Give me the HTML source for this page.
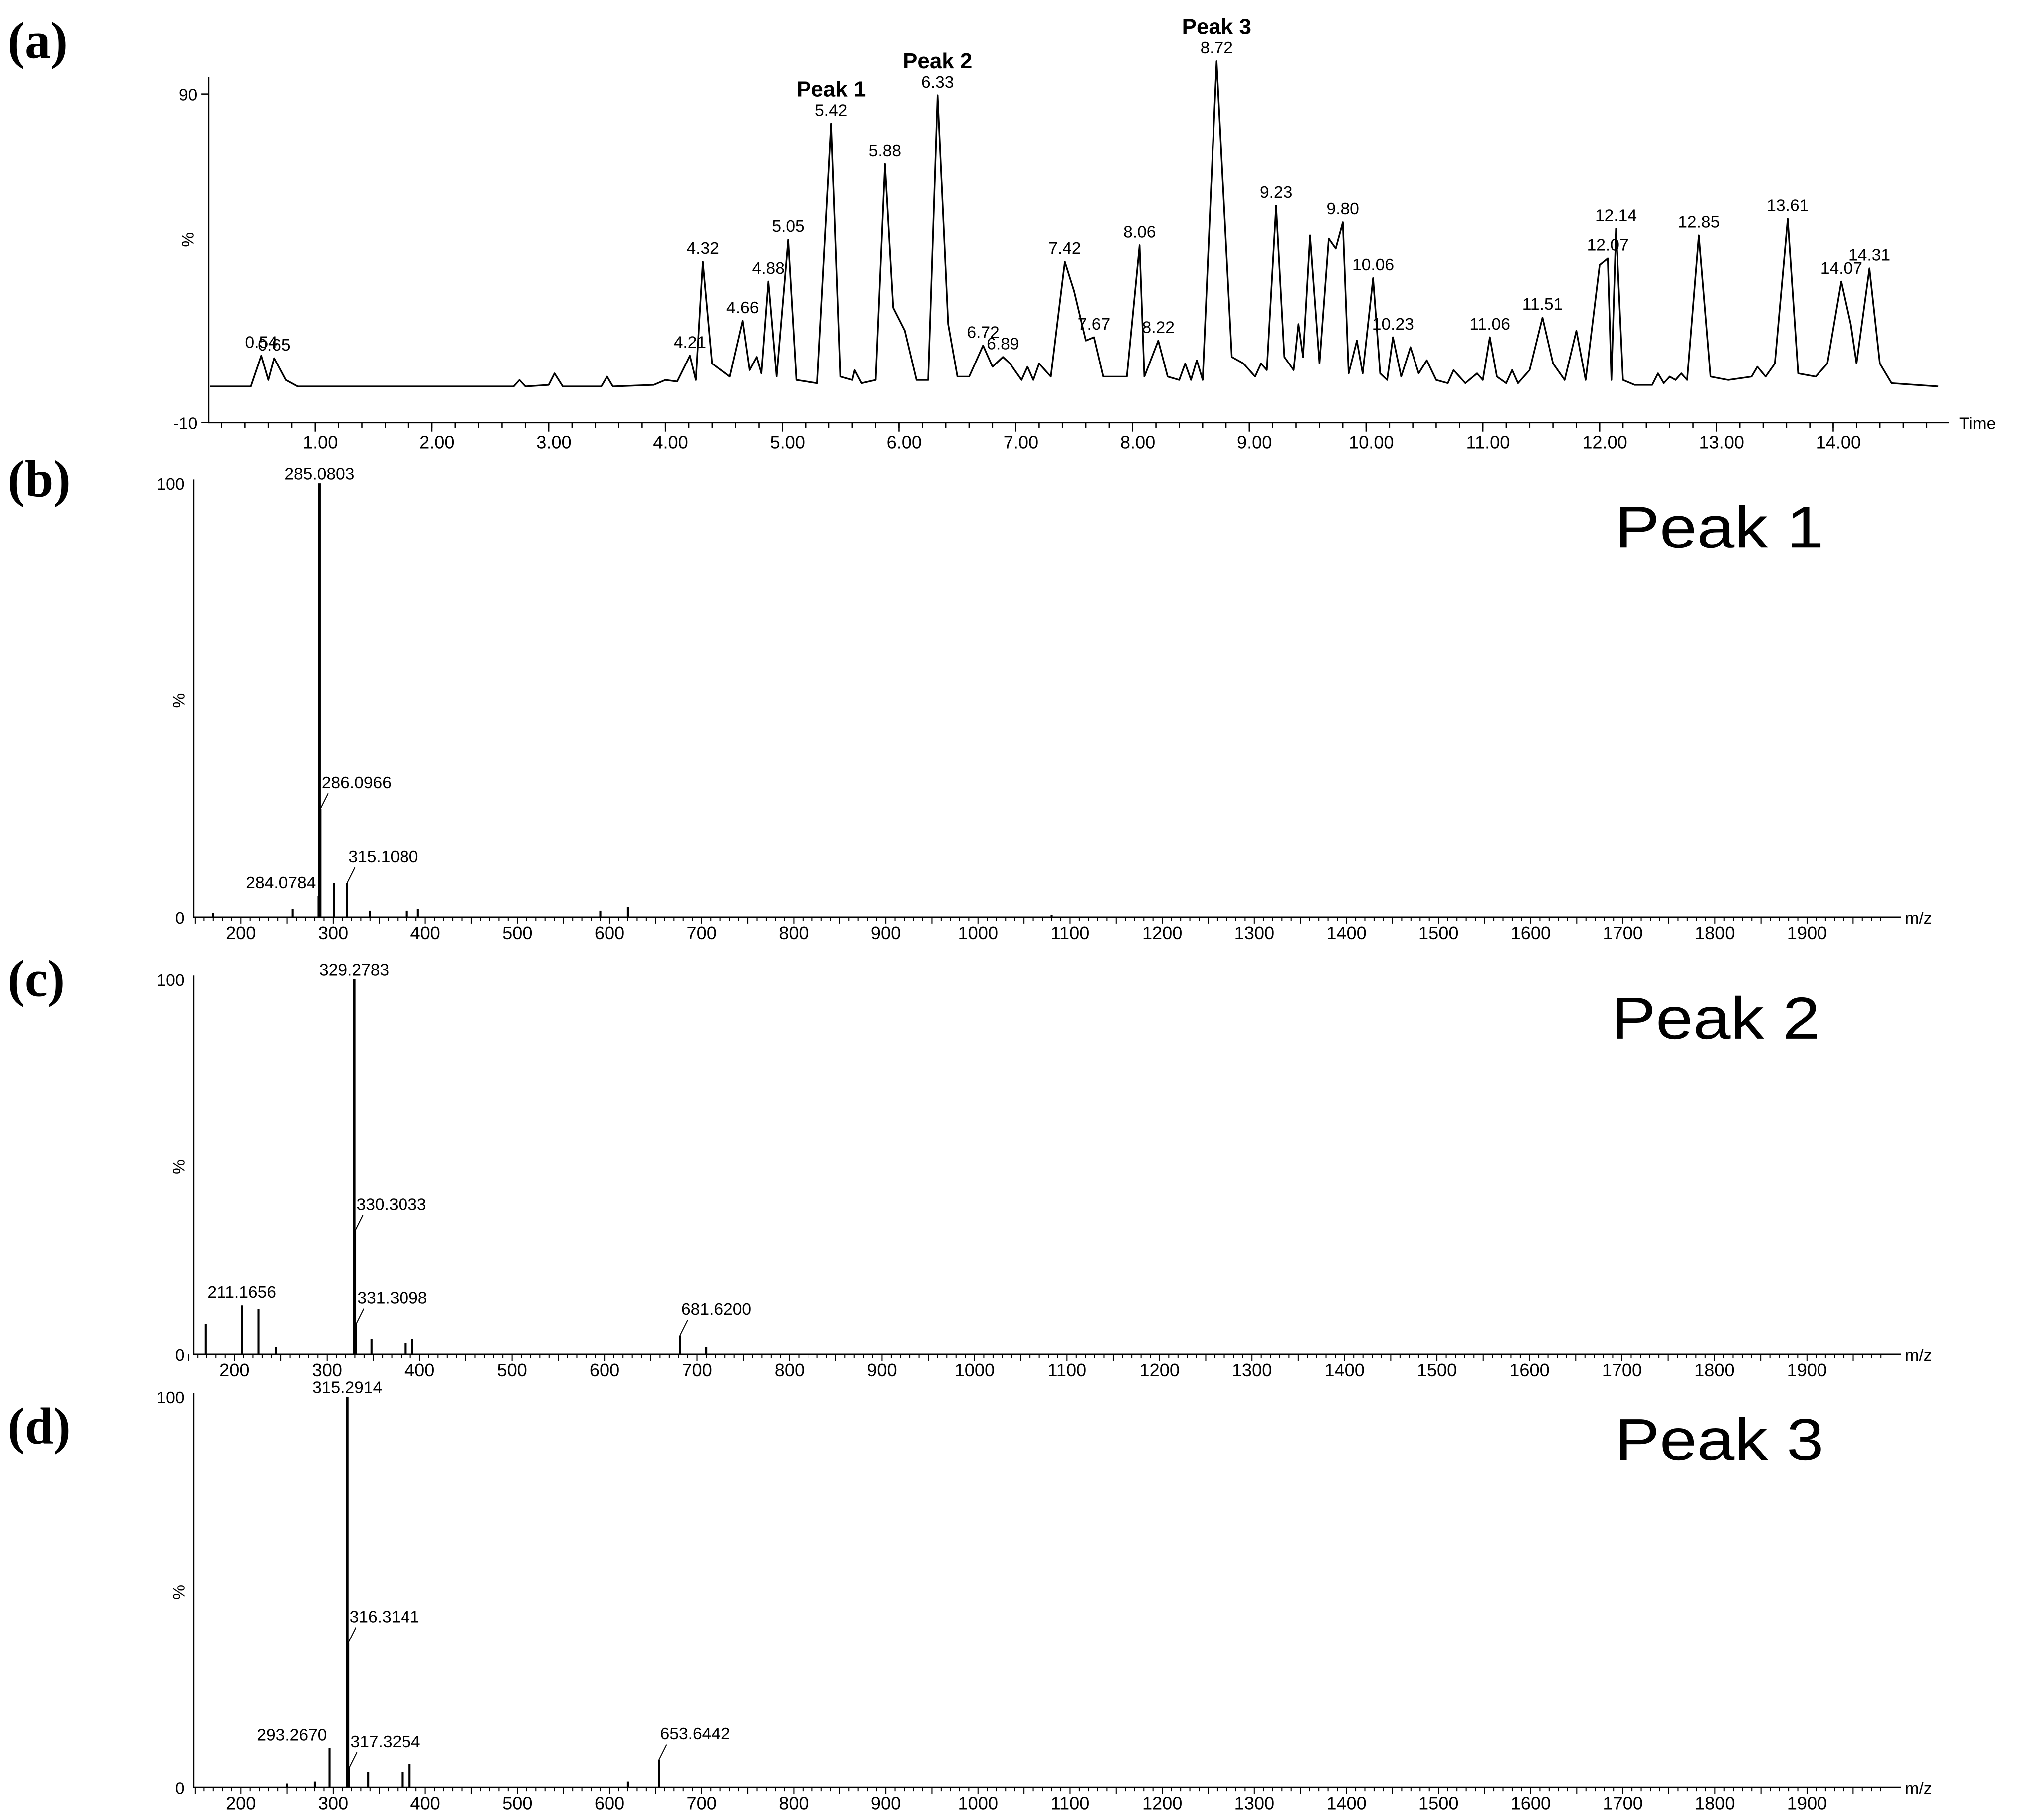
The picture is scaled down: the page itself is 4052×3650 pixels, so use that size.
<!DOCTYPE html>
<html><head><meta charset="utf-8"><style>html,body{margin:0;padding:0;background:#fff}svg{display:block}text{font-family:"Liberation Sans",sans-serif;fill:#000}</style></head>
<body>
<svg id="fig" xmlns="http://www.w3.org/2000/svg" width="4052" height="3650" viewBox="0 0 1568 1412.4" preserveAspectRatio="none">
<rect width="1568" height="1412.4" fill="#fff"/>
<g font-family="Liberation Serif" font-weight="bold" font-size="40">
<text x="6" y="45" style="font-family:'Liberation Serif',serif">(a)</text>
<text x="6" y="385" style="font-family:'Liberation Serif',serif">(b)</text>
<text x="6" y="773" style="font-family:'Liberation Serif',serif">(c)</text>
<text x="6" y="1120" style="font-family:'Liberation Serif',serif">(d)</text>
</g>
<text x="1253" y="425" font-size="46" textLength="162" lengthAdjust="spacingAndGlyphs">Peak 1</text>
<text x="1250" y="806" font-size="46" textLength="162" lengthAdjust="spacingAndGlyphs">Peak 2</text>
<text x="1253" y="1133" font-size="46" textLength="162" lengthAdjust="spacingAndGlyphs">Peak 3</text>
<g id="chrom"></g>
<g id="specb"></g>
<g id="specc"></g>
<g id="specd"></g>
</svg>
<script>
const chromTimes=[0.1,0.45,0.54,0.6,0.65,0.75,0.85,2.7,2.75,2.8,3.0,3.05,3.12,3.45,3.5,3.55,3.9,4.0,4.1,4.21,4.26,4.32,4.4,4.55,4.66,4.72,4.78,4.82,4.88,4.95,5.05,5.12,5.3,5.42,5.5,5.6,5.62,5.68,5.8,5.88,5.95,6.05,6.15,6.25,6.33,6.42,6.5,6.6,6.72,6.8,6.89,6.95,7.05,7.1,7.15,7.2,7.3,7.42,7.5,7.6,7.67,7.75,7.95,8.06,8.1,8.22,8.3,8.4,8.45,8.5,8.55,8.6,8.72,8.85,8.95,9.05,9.1,9.15,9.23,9.3,9.38,9.42,9.46,9.52,9.6,9.68,9.74,9.80,9.85,9.92,9.97,10.06,10.12,10.18,10.23,10.3,10.38,10.45,10.52,10.6,10.7,10.75,10.85,10.95,11.0,11.06,11.12,11.2,11.25,11.3,11.4,11.51,11.6,11.7,11.8,11.88,12.0,12.07,12.1,12.14,12.2,12.3,12.45,12.5,12.55,12.6,12.65,12.7,12.75,12.85,12.95,13.1,13.3,13.35,13.42,13.5,13.61,13.7,13.85,13.95,14.07,14.15,14.2,14.31,14.4,14.5,14.9];
const chromValues=[1,1,10.4,3,9.6,3,1,1,3,1,1.5,5,1,1,4,1,1.5,3,2.5,10.4,3,39,8,4,21,6,10,5,33,4,45.7,3,2,81,4,3,6,2,3,68.8,25,18,3,3,89.6,20,4,4,13.5,7,10,8,3,7,3,8,4,39,30,15,16,4,4,44,4,15,4,3,8,3,9,3,100,10,8,4,8,6,56,10,6,20,10,47,8,46,43,51,5,15,5,34,5,3,16,4,13,5,9,3,2,6,2,5,3,16,4,2,6,2,6,22,8,3,18,3,38,40,3,49,3,1.5,1.5,5,2,4,3,5,3,47,4,3,4,7,4,8,52,5,4,8,33,20,8,37,8,2,1];
const chromLabels=["0.54","0.65","4.21","4.32","4.66","4.88","5.05","5.42","5.88","6.33","6.72","6.89","7.42","7.67","8.06","8.22","8.72","9.23","9.80","10.06","10.23","11.06","11.51","12.07","12.14","12.85","13.61","14.07","14.31"];
const chromLabelVals=[10.4,9.6,10.4,39,21,33,45.7,81,68.8,89.6,13.5,10,39,16,44,15,100,56,51,34,16,16,22,40,49,47,52,33,37];
const timeTicks=["1.00","2.00","3.00","4.00","5.00","6.00","7.00","8.00","9.00","10.00","11.00","12.00","13.00","14.00"];

const mzTicks=[200,300,400,500,600,700,800,900,1000,1100,1200,1300,1400,1500,1600,1700,1800,1900];
const specBmz=[170,256,284.08,285.08,286.10,301,315.11,340,380,392,590,620,1080];
const specBint=[1,2,5,100,25,8,8,1.5,1.5,2,1.5,2.5,0.5];
const specBlab=["284.0784","285.0803","286.0966","315.1080"];
const specCmz=[169,208,226,245,329.28,330.30,331.31,348,385,392,681.62,710];
const specCint=[8,13,12,2,100,33,8,4,3,4,5,2];
const specClab=["211.1656","329.2783","330.3033","331.3098","681.6200"];
const specDmz=[250,280,296,315.29,316.31,317.33,338,375,383,620,653.64];
const specDint=[1,1.5,10,100,37,5,4,4,6,1.5,7];
const specDlab=["293.2670","315.2914","316.3141","317.3254","653.6442"];

const NS="http://www.w3.org/2000/svg";
function mk(parent,tag,attrs){const e=document.createElementNS(NS,tag);for(const k in attrs)e.setAttribute(k,attrs[k]);parent.appendChild(e);return e;}
function txt(parent,x,y,s,size,anchor){const t=mk(parent,'text',{x:x,y:y,'font-size':size,'text-anchor':anchor||'start'});t.textContent=s;return t;}

// Chromatogram
(function(){
 const g=document.getElementById('chrom');
 const xT=t=>244.5+(t-1)*90.6, yV=v=>328-(v+10)*2.55;
 const ax=mk(g,'path',{d:'M162,60 V328 H1512',stroke:'#000','stroke-width':1.2,fill:'none'});
 
 for(let t=0.2;t<14.95;t+=0.2){const l=mk(g,'line',{x1:xT(t),x2:xT(t),y1:328,y2:332,stroke:'#000','stroke-width':1});}
 timeTicks.forEach(s=>{const t=parseFloat(s);const l=mk(g,'line',{x1:xT(t),x2:xT(t),y1:328,y2:335,stroke:'#000','stroke-width':1});
  const tx=txt(g,xT(t)+4,348,s,14,'middle');});
 [[90],[-10]].forEach(([v])=>{const tx=txt(g,153,yV(v)+5,String(v),13,'end');
  const l=mk(g,'line',{x1:156,x2:162,y1:yV(v),y2:yV(v),stroke:'#000'});});
 const pc=txt(g,0,0,'%',13,'middle');pc.setAttribute('transform','translate(150,186) rotate(-90)');
 const tt=txt(g,1520,333,'Time',13);
 let d='';chromTimes.forEach((t,i)=>{d+=(i?'L':'M')+xT(t).toFixed(1)+','+yV(chromValues[i]).toFixed(1);});
 const p=mk(g,'path',{d:d,stroke:'#000','stroke-width':1.3,fill:'none','stroke-linejoin':'round'});
 
 chromLabels.forEach((s,i)=>{const x=xT(parseFloat(s)),y=yV(chromLabelVals[i])-6;const tx=txt(g,x,y,s,13,'middle');});
 [['Peak 1',5.42,81],['Peak 2',6.33,89.6],['Peak 3',8.72,100]].forEach(([s,t,v])=>{const tx=txt(g,xT(t),yV(v)-21,s,17,'middle');tx.setAttribute('font-weight','bold');});
})();

function spectrum(id,mz,inten,labs,y100,y0,x200,per100){
 const g=document.getElementById(id);
 const xM=m=>x200+(m-200)*per100/100;
 const yy=v=>y0-(y0-y100)*v/100;
 const ax=mk(g,'path',{d:`M150,${y100-3} V${y0} H1475`,stroke:'#000','stroke-width':1.2,fill:'none'});
 
 for(let m=150;m<=1980;m+=10){const l=mk(g,'line',{x1:xM(m),x2:xM(m),y1:y0,y2:y0+(m%50==0?5:3),stroke:'#000','stroke-width':0.8});}
 mzTicks.forEach(m=>{const tx=txt(g,xM(m),y0+17,String(m),14,'middle');});
 const a=txt(g,1478,y0+5,'m/z',13);
 const t1=txt(g,143,y100+5,'100',13,'end');
 const t0=txt(g,143,y0+5,'0',13,'end');
 const pc=txt(g,0,0,'%',13,'middle');pc.setAttribute('transform',`translate(143,${(y100+y0)/2}) rotate(-90)`);
 mz.forEach((m,i)=>{const l=mk(g,'line',{x1:xM(m),x2:xM(m),y1:y0,y2:yy(inten[i]),stroke:'#000','stroke-width':m>=280&&inten[i]>50?2:1.6});});
 labs.forEach(s=>{const m=parseFloat(s);let best=0,bd=1e9;mz.forEach((q,i)=>{if(Math.abs(q-m)<bd){bd=Math.abs(q-m);best=i;}});
  const x=xM(mz[best]),y=yy(inten[best]);let tx;
  if(inten[best]>90){tx=txt(g,x,y-3,s,13,'middle');}
  else if(mz[best]<m-0.5||(inten[best]<15&&mz[best]<300)){tx=txt(g,x+(mz[best]<m-0.5?0:-2),y-6,s,13,mz[best]<m-0.5?'middle':'end');}
  else{tx=txt(g,x+1,y-16,s,13,'start');const l=mk(g,'line',{x1:x,y1:y,x2:x+6,y2:y-12,stroke:'#000','stroke-width':0.8});}
  });
}
spectrum('specb',specBmz,specBint,specBlab,375,712,187,71.47);
spectrum('specc',specCmz,specCint,specClab,760,1051,182,71.76);
spectrum('specd',specDmz,specDint,specDlab,1084,1387,187,71.47);
</script>
</body></html>
